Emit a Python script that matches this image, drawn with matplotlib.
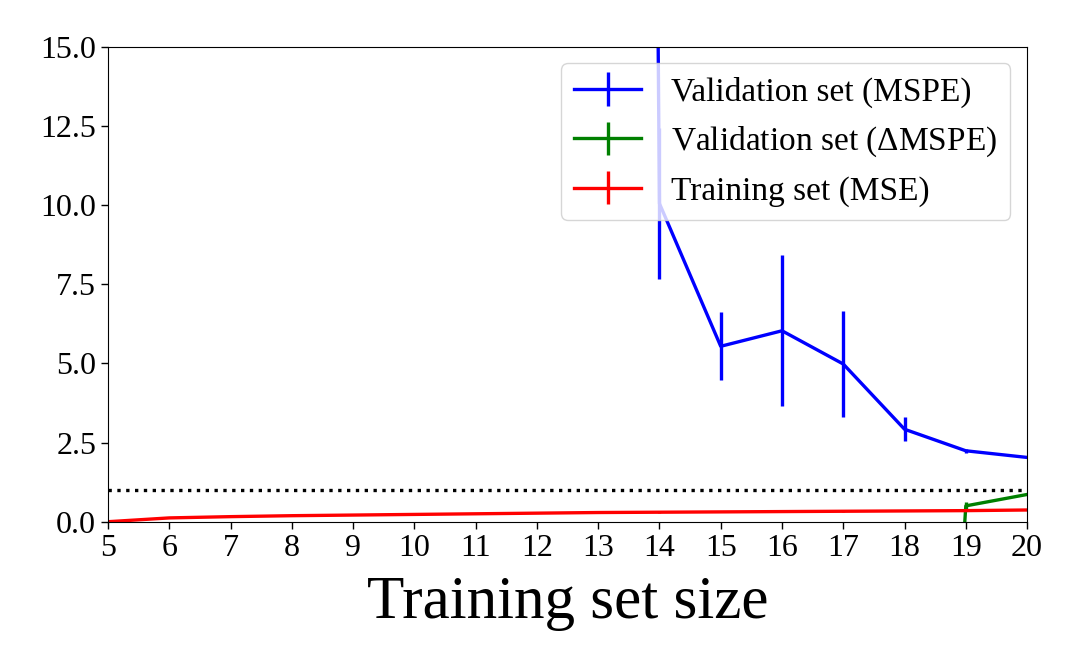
import matplotlib
matplotlib.use("Agg")
import matplotlib.pyplot as plt
import numpy as np

plt.rcParams['font.family'] = ['Liberation Serif', 'DejaVu Serif']
plt.rcParams['mathtext.fontset'] = 'custom'
plt.rcParams['mathtext.rm'] = 'Liberation Serif'

# training set sizes
sizes_train = [5, 6, 7, 8, 9, 10, 11, 12, 13, 14, 15, 16, 17, 18, 19, 20]
mse_train = [0.0, 0.12, 0.16, 0.19, 0.21, 0.23, 0.25, 0.27, 0.29, 0.30, 0.31, 0.32, 0.33, 0.34, 0.35, 0.37]
mse_train_err = [0.0, 0.01, 0.01, 0.01, 0.01, 0.01, 0.01, 0.01, 0.01, 0.01, 0.01, 0.01, 0.01, 0.01, 0.01, 0.01]

# validation MSPE (values before 14 are far above the plotted range)
sizes_val = [13, 14, 15, 16, 17, 18, 19, 20]
mspe_val = [250.0, 10.05, 5.54, 6.03, 4.98, 2.92, 2.24, 2.03]
mspe_val_err = [60.0, 2.4, 1.07, 2.38, 1.66, 0.38, 0.06, 0.02]

# validation delta MSPE
sizes_dval = [18, 19, 20]
dmspe_val = [-30.0, 0.5, 0.86]
dmspe_val_err = [5.0, 0.12, 0.02]

fig = plt.figure(figsize=(10.8, 6.68), dpi=100)
ax = fig.add_axes([0.1, 0.219, 0.851, 0.711])

ax.errorbar(sizes_val, mspe_val, yerr=mspe_val_err, color='blue', lw=2.4,
            elinewidth=2.4, label='Validation set (MSPE)')
ax.errorbar(sizes_dval, dmspe_val, yerr=dmspe_val_err, color='green', lw=2.4,
            elinewidth=2.4, label=r'Validation set ($\Delta$MSPE)')
ax.errorbar(sizes_train, mse_train, yerr=mse_train_err, color='red', lw=2.4,
            elinewidth=2.4, label='Training set (MSE)')
ax.axhline(1.0, color='black', ls=':', lw=2.4)

ax.set_xlim(5, 20)
ax.set_ylim(0, 15)
ax.set_xticks(np.arange(5, 21, 1))
ax.set_yticks([0, 2.5, 5, 7.5, 10, 12.5, 15])
ax.set_yticklabels(['0.0', '2.5', '5.0', '7.5', '10.0', '12.5', '15.0'])
ax.tick_params(labelsize=23, length=5, width=1)
ax.set_xlabel('Training set size', fontsize=44, labelpad=9)

ax.legend(loc='upper right', fontsize=24, handlelength=2.0, borderaxespad=0.5,
          handletextpad=0.9)

fig.savefig('out.png', dpi=100)
